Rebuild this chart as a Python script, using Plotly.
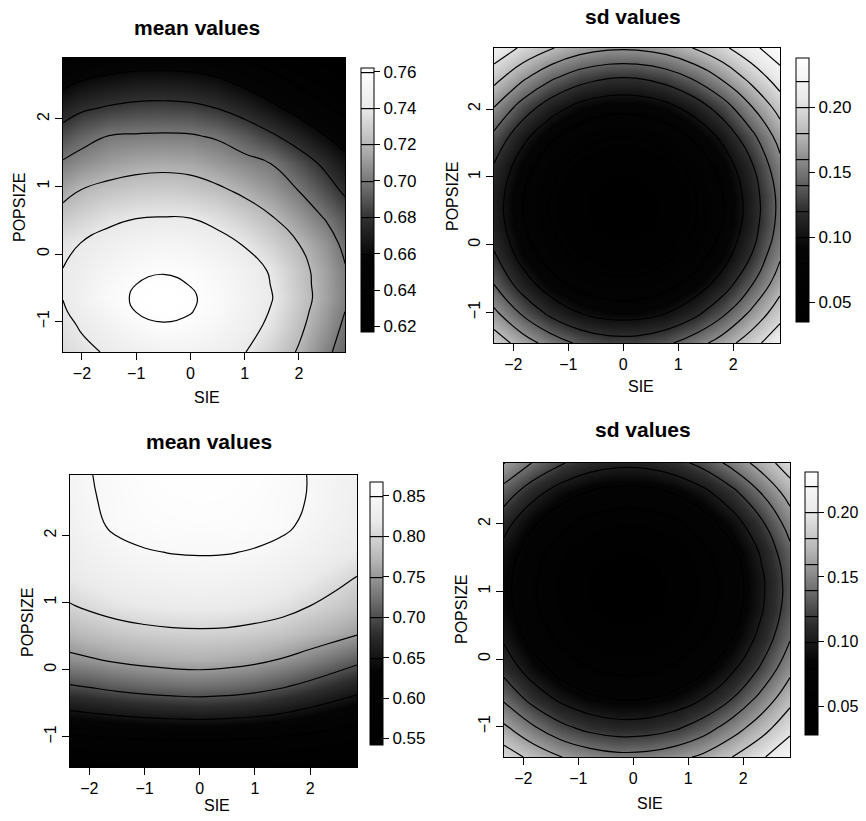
import plotly.graph_objects as go

FONT = "Liberation Sans, Arial, Helvetica, sans-serif"

# ---------------- Panel 1: mean values (top-left) ----------------
m1_sie = [-2.35, -2.0, -1.5, -1.0, -0.5, 0.0, 0.5, 1.0, 1.5, 2.0, 2.5, 2.85]
m1_popsize = [-1.45, -1.05, -0.85, -0.65, -0.45, -0.25, 0.15, 0.55, 0.95, 1.35, 1.75, 2.15, 2.55, 2.9]
m1_z = [
    [0.734, 0.737, 0.7415, 0.746, 0.749, 0.7485, 0.746, 0.7405, 0.730, 0.7185, 0.703, 0.694],
    [0.7365, 0.7415, 0.749, 0.755, 0.7595, 0.758, 0.753, 0.746, 0.737, 0.7235, 0.709, 0.6975],
    [0.7385, 0.7450, 0.753, 0.7603, 0.7618, 0.7605, 0.7555, 0.7478, 0.739, 0.7255, 0.711, 0.700],
    [0.7403, 0.7475, 0.7565, 0.7612, 0.7625, 0.7612, 0.7565, 0.749, 0.7405, 0.727, 0.713, 0.7025],
    [0.7405, 0.7465, 0.7545, 0.7600, 0.7615, 0.7598, 0.755, 0.748, 0.7395, 0.7262, 0.7128, 0.702],
    [0.7403, 0.745, 0.752, 0.757, 0.7595, 0.758, 0.7535, 0.747, 0.7385, 0.7255, 0.7125, 0.7015],
    [0.7375, 0.7405, 0.7455, 0.7495, 0.751, 0.750, 0.7455, 0.739, 0.730, 0.720, 0.708, 0.696],
    [0.7265, 0.731, 0.7365, 0.7393, 0.740, 0.7395, 0.735, 0.7285, 0.7205, 0.7095, 0.6985, 0.689],
    [0.714, 0.7203, 0.7245, 0.727, 0.728, 0.7265, 0.7225, 0.7165, 0.709, 0.6995, 0.687, 0.677],
    [0.7015, 0.7065, 0.7115, 0.7145, 0.7155, 0.7145, 0.710, 0.7045, 0.6995, 0.688, 0.676, 0.666],
    [0.6875, 0.694, 0.7001, 0.7012, 0.7018, 0.7012, 0.698, 0.691, 0.682, 0.672, 0.660, 0.651],
    [0.672, 0.678, 0.682, 0.6845, 0.685, 0.684, 0.680, 0.673, 0.664, 0.654, 0.643, 0.635],
    [0.655, 0.661, 0.665, 0.6675, 0.668, 0.667, 0.663, 0.656, 0.647, 0.637, 0.627, 0.621],
    [0.638, 0.644, 0.648, 0.6505, 0.651, 0.650, 0.646, 0.639, 0.630, 0.622, 0.618, 0.617],
]
m1_range = [0.617, 0.762]
m1_ticks = [0.62, 0.64, 0.66, 0.68, 0.70, 0.72, 0.74, 0.76]

# ---------------- Panel 2: sd values (top-right) ----------------
s1_sie = [-2.35, -1.83, -1.31, -0.79, -0.27, 0.25, 0.77, 1.29, 1.81, 2.33, 2.85]
s1_popsize = [-1.45, -1.015, -0.58, -0.145, 0.29, 0.725, 1.16, 1.595, 2.03, 2.465, 2.9]
s1_z = [
    [0.1927, 0.1705, 0.1513, 0.1364, 0.1290, 0.1288, 0.1360, 0.1506, 0.1697, 0.1918, 0.2149],
    [0.1651, 0.1374, 0.1152, 0.1004, 0.0929, 0.0928, 0.1000, 0.1145, 0.1364, 0.1641, 0.1922],
    [0.1396, 0.1101, 0.0880, 0.0731, 0.0657, 0.0655, 0.0727, 0.0873, 0.1091, 0.1384, 0.1717],
    [0.1212, 0.0917, 0.0695, 0.0547, 0.0472, 0.0471, 0.0543, 0.0688, 0.0907, 0.1199, 0.1566],
    [0.1115, 0.0820, 0.0599, 0.0450, 0.0376, 0.0374, 0.0446, 0.0592, 0.0810, 0.1103, 0.1468],
    [0.1107, 0.0812, 0.0590, 0.0442, 0.0367, 0.0366, 0.0438, 0.0583, 0.0802, 0.1094, 0.1460],
    [0.1186, 0.0891, 0.0669, 0.0521, 0.0446, 0.0445, 0.0517, 0.0662, 0.0881, 0.1173, 0.1539],
    [0.1353, 0.1058, 0.0837, 0.0689, 0.0614, 0.0612, 0.0684, 0.0830, 0.1049, 0.1341, 0.1682],
    [0.1602, 0.1314, 0.1092, 0.0944, 0.0869, 0.0868, 0.0940, 0.1085, 0.1304, 0.1591, 0.1883],
    [0.1876, 0.1641, 0.1435, 0.1287, 0.1212, 0.1211, 0.1283, 0.1428, 0.1633, 0.1868, 0.2106],
    [0.2149, 0.1965, 0.1813, 0.1692, 0.1630, 0.1629, 0.1688, 0.1807, 0.1958, 0.2143, 0.2332],
]
s1_range = [0.035, 0.238]
s1_ticks = [0.05, 0.10, 0.15, 0.20]

# ---------------- Panel 3: mean values (bottom-left) ----------------
m2_sie = [-2.35, -2.0, -1.5, -1.0, -0.5, 0.0, 0.5, 1.0, 1.5, 2.0, 2.5, 2.85]
m2_popsize = [-1.45, -1.05, -0.65, -0.25, 0.15, 0.55, 0.95, 1.35, 1.75, 2.15, 2.55, 2.9]
m2_z = [
    [0.546, 0.548, 0.550, 0.551, 0.552, 0.552, 0.552, 0.551, 0.550, 0.548, 0.546, 0.544],
    [0.589, 0.591, 0.5946, 0.5973, 0.5991, 0.600, 0.5986, 0.596, 0.5914, 0.5856, 0.579, 0.574],
    [0.645, 0.649, 0.655, 0.660, 0.663, 0.665, 0.663, 0.658, 0.650, 0.639, 0.627, 0.619],
    [0.697, 0.702, 0.710, 0.716, 0.720, 0.722, 0.719, 0.713, 0.703, 0.690, 0.675, 0.664],
    [0.742, 0.747, 0.755, 0.761, 0.765, 0.767, 0.764, 0.758, 0.748, 0.735, 0.720, 0.709],
    [0.772, 0.779, 0.787, 0.792, 0.795, 0.796, 0.795, 0.791, 0.785, 0.774, 0.763, 0.754],
    [0.798, 0.805, 0.813, 0.818, 0.821, 0.822, 0.821, 0.817, 0.811, 0.800, 0.789, 0.780],
    [0.816, 0.823, 0.831, 0.836, 0.839, 0.840, 0.839, 0.835, 0.829, 0.818, 0.807, 0.798],
    [0.8255, 0.8335, 0.8425, 0.8485, 0.8507, 0.8515, 0.851, 0.8485, 0.8425, 0.8345, 0.8245, 0.8175],
    [0.835, 0.843, 0.855, 0.858, 0.8602, 0.861, 0.8605, 0.858, 0.855, 0.844, 0.834, 0.827],
    [0.838, 0.848, 0.855, 0.861, 0.8632, 0.864, 0.8635, 0.861, 0.855, 0.849, 0.837, 0.830],
    [0.840, 0.849, 0.857, 0.863, 0.8652, 0.866, 0.8655, 0.863, 0.857, 0.849, 0.839, 0.832],
]
m2_range = [0.542, 0.867]
m2_ticks = [0.55, 0.60, 0.65, 0.70, 0.75, 0.80, 0.85]

# ---------------- Panel 4: sd values (bottom-right) ----------------
s2_sie = [-2.35, -1.83, -1.31, -0.79, -0.27, 0.25, 0.77, 1.29, 1.81, 2.33, 2.85]
s2_popsize = [-1.45, -1.015, -0.58, -0.145, 0.29, 0.725, 1.16, 1.595, 2.03, 2.465, 2.9]
s2_z = [
    [0.1909, 0.1747, 0.1603, 0.1510, 0.1460, 0.1471, 0.1536, 0.1647, 0.1803, 0.1973, 0.2156],
    [0.1637, 0.1428, 0.1252, 0.1138, 0.1086, 0.1097, 0.1170, 0.1306, 0.1503, 0.1716, 0.1939],
    [0.1364, 0.1125, 0.0949, 0.0835, 0.0784, 0.0794, 0.0868, 0.1003, 0.1201, 0.1461, 0.1733],
    [0.1133, 0.0894, 0.0718, 0.0604, 0.0552, 0.0563, 0.0636, 0.0772, 0.0970, 0.1230, 0.1543],
    [0.0973, 0.0734, 0.0558, 0.0444, 0.0392, 0.0403, 0.0476, 0.0612, 0.0809, 0.1070, 0.1392],
    [0.0884, 0.0645, 0.0469, 0.0355, 0.0303, 0.0314, 0.0387, 0.0523, 0.0721, 0.0981, 0.1303],
    [0.0867, 0.0628, 0.0452, 0.0338, 0.0286, 0.0297, 0.0370, 0.0505, 0.0703, 0.0964, 0.1286],
    [0.0930, 0.0692, 0.0515, 0.0401, 0.0350, 0.0361, 0.0434, 0.0569, 0.0767, 0.1027, 0.1350],
    [0.1079, 0.0840, 0.0664, 0.0550, 0.0499, 0.0509, 0.0582, 0.0718, 0.0916, 0.1176, 0.1499],
    [0.1312, 0.1074, 0.0898, 0.0784, 0.0732, 0.0743, 0.0816, 0.0951, 0.1149, 0.1410, 0.1690],
    [0.1607, 0.1392, 0.1216, 0.1102, 0.1050, 0.1061, 0.1134, 0.1270, 0.1468, 0.1687, 0.1916],
]
s2_range = [0.028, 0.231]
s2_ticks = [0.05, 0.10, 0.15, 0.20]

x_ticks = [-2, -1, 0, 1, 2]
y_ticks = [-1, 0, 1, 2]
x_range = [-2.35, 2.85]
y_range = [-1.45, 2.9]

GRAY = [
    [0.0, "rgb(0,0,0)"],
    [0.28, "rgb(4,4,4)"],
    [0.42, "rgb(45,45,45)"],
    [0.55, "rgb(110,110,110)"],
    [0.70, "rgb(180,180,180)"],
    [0.85, "rgb(234,234,234)"],
    [1.0, "rgb(255,255,255)"],
]

W, H = 866, 821


def fx(px):
    return px / W


def fy(py):
    return 1 - py / H


panels = [
    dict(x=m1_sie, y=m1_popsize, z=m1_z, rng=m1_range, ticks=m1_ticks,
         lv=(0.62, 0.76, 0.02), box=(63, 58, 345, 352), cb=(361, 68, 332), cbfont=17,
         title="mean values", tpos=(197, 28), sie=(207, 397), pop=(20, 208)),
    dict(x=s1_sie, y=s1_popsize, z=s1_z, rng=s1_range, ticks=s1_ticks,
         lv=(0.04, 0.22, 0.02), box=(494, 48, 780, 343), cb=(796, 58, 322), cbfont=17,
         title="sd values", tpos=(633, 17), sie=(641, 387), pop=(453, 197)),
    dict(x=m2_sie, y=m2_popsize, z=m2_z, rng=m2_range, ticks=m2_ticks,
         lv=(0.55, 0.85, 0.05), box=(70, 475, 357, 767), cb=(370, 482, 745), cbfont=17,
         title="mean values", tpos=(209, 441), sie=(217, 805), pop=(27, 623)),
    dict(x=s2_sie, y=s2_popsize, z=s2_z, rng=s2_range, ticks=s2_ticks,
         lv=(0.04, 0.22, 0.02), box=(504, 463, 790, 757), cb=(805, 472, 735), cbfont=16,
         title="sd values", tpos=(643, 429), sie=(650, 803), pop=(461, 610)),
]

fig = go.Figure()
annotations = []
layout_axes = {}

for i, p in enumerate(panels, start=1):
    xa = "x" if i == 1 else f"x{i}"
    ya = "y" if i == 1 else f"y{i}"
    l, t, r, b = p["box"]
    cbx, cbt, cbb = p["cb"]
    fig.add_trace(go.Contour(
        x=p["x"], y=p["y"], z=p["z"],
        xaxis=xa, yaxis=ya,
        colorscale=GRAY, zmin=p["rng"][0], zmax=p["rng"][1], zauto=False,
        contours=dict(start=p["lv"][0], end=p["lv"][1], size=p["lv"][2],
                      coloring="heatmap", showlines=True),
        line=dict(color="black", width=1.2, smoothing=1.3),
        colorbar=dict(
            x=fx(cbx), xanchor="left",
            y=fy((cbt + cbb) / 2), yanchor="middle",
            len=(cbb - cbt) / H, lenmode="fraction",
            thickness=13, thicknessmode="pixels",
            outlinewidth=1, outlinecolor="black",
            ticks="outside", ticklen=6, tickcolor="black", tickwidth=1,
            tickvals=p["ticks"], ticktext=[f"{v:.2f}" for v in p["ticks"]],
            tickfont=dict(family=FONT, size=p["cbfont"], color="black"),
            xpad=0, ypad=0, bgcolor="rgba(0,0,0,0)",
        ),
        hoverinfo="skip",
    ))
    xkey = "xaxis" if i == 1 else f"xaxis{i}"
    ykey = "yaxis" if i == 1 else f"yaxis{i}"
    layout_axes[xkey] = dict(
        domain=[fx(l), fx(r)], anchor=ya, range=x_range,
        tickvals=x_ticks, ticks="outside", ticklen=7, tickcolor="black",
        showline=True, mirror=True, linecolor="black", linewidth=1,
        showgrid=False, zeroline=False,
        tickfont=dict(family=FONT, size=16, color="black"),
    )
    layout_axes[ykey] = dict(
        domain=[fy(b), fy(t)], anchor=xa, range=y_range,
        tickvals=y_ticks, ticks="outside", ticklen=7, tickcolor="black",
        showline=True, mirror=True, linecolor="black", linewidth=1,
        showgrid=False, zeroline=False, tickangle=-90,
        tickfont=dict(family=FONT, size=16, color="black"),
    )
    annotations.append(dict(
        text=f"<b>{p['title']}</b>", x=fx(p["tpos"][0]), y=fy(p["tpos"][1]),
        xref="paper", yref="paper", showarrow=False, xanchor="center", yanchor="middle",
        font=dict(family=FONT, size=21, color="black")))
    annotations.append(dict(
        text="SIE", x=fx(p["sie"][0]), y=fy(p["sie"][1]),
        xref="paper", yref="paper", showarrow=False, xanchor="center", yanchor="middle",
        font=dict(family=FONT, size=16, color="black")))
    annotations.append(dict(
        text="POPSIZE", x=fx(p["pop"][0]), y=fy(p["pop"][1]), textangle=-90,
        xref="paper", yref="paper", showarrow=False, xanchor="center", yanchor="middle",
        font=dict(family=FONT, size=16, color="black")))

fig.update_layout(
    width=W, height=H,
    margin=dict(l=0, r=0, t=0, b=0),
    paper_bgcolor="white", plot_bgcolor="white",
    showlegend=False,
    annotations=annotations,
    **layout_axes,
)

fig.write_html("out.html",
               config={"displayModeBar": False, "staticPlot": True},
               post_script="document.body.style.margin='0';document.body.style.overflow='hidden';")
